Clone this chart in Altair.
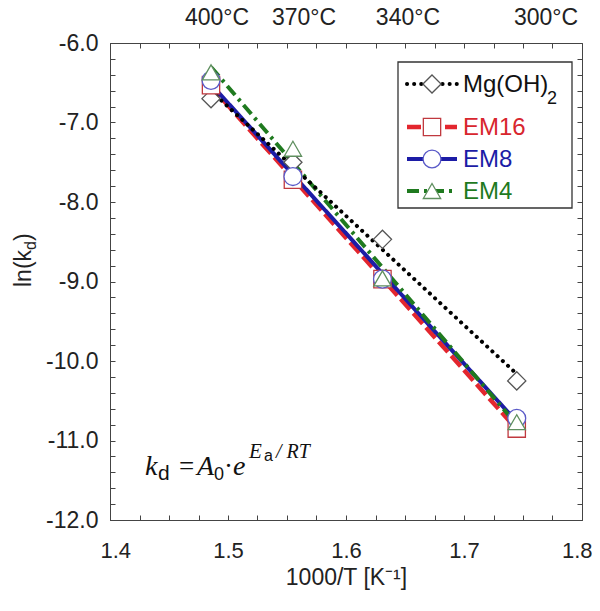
import altair as alt
import pandas as pd
import numpy as np

# ---------------- data ----------------
temps_c = [400, 370, 340, 300]
inv_T = [1.4856, 1.5550, 1.6309, 1.7447]          # 1000/T [1/K]
series_names = ["Mg(OH)2", "EM16", "EM8", "EM4"]
mg_vals = [-6.70, -7.50, -8.47, -10.25]
em16_vals = [-6.53, -7.72, -8.97, -10.85]
em8_vals = [-6.47, -7.68, -8.97, -10.72]
em4_vals = [-6.37, -7.33, -8.96, -10.77]

top_labels = ["400°C", "370°C", "340°C", "300°C"]
top_label_pos = [1.4907, 1.5644, 1.6525, 1.7695]

x_ticks = [round(1.4 + 0.025 * i, 3) for i in range(17)]
y_ticks = [round(-12.0 + 0.2 * i, 1) for i in range(31)]
x_major = [1.4, 1.5, 1.6, 1.7, 1.8]
y_major = [-12.0, -11.0, -10.0, -9.0, -8.0, -7.0, -6.0]

line_colors = ["#000000", "#e3262e", "#1c1ca6", "#1f7a1f"]
marker_strokes = ["#555555", "#c0393f", "#5a5ac8", "#5f8f5f"]
text_colors = ["#111111", "#d8262e", "#1c1ca6", "#1f7a1f"]
shapes = ["diamond", "square", "circle", "triangle-up"]
sizes = [330, 300, 320, 300]
dashes = [[0.1, 7], [14, 5], [1, 0], [12, 5, 3, 5]]
widths = [4, 4.5, 4, 4]

vals = [mg_vals, em16_vals, em8_vals, em4_vals]
rows = []
for name, v in zip(series_names, vals):
    for x, y in zip(inv_T, v):
        rows.append({"series": name, "x": x, "y": y})
df = pd.DataFrame(rows)

W, H = 472, 477
xscale = alt.Scale(domain=[1.4, 1.8], nice=False, zero=False)
yscale = alt.Scale(domain=[-12, -6], nice=False, zero=False)

FONT = "Liberation Sans"
SERIF = "Liberation Serif"
X0, Y0 = 110, 43   # plot origin on page (for annotations)
AX = "#444444"
LBL = "replace(format(datum.value, '.1f'), '\u2212', '-')"

x_axis = alt.Axis(
    values=x_major, labelExpr=LBL, ticks=False,
    labelPadding=20, labelFontSize=22, labelFont=FONT, labelColor="#222222",
    domainColor=AX, grid=False,
    title="1000/T [K\u207b\u00b9]", titleFont=FONT, titleFontSize=23, titleFontWeight="normal",
    titleColor="#222222", titlePadding=5, labelFlush=True, labelFlushOffset=10,
)
y_axis = alt.Axis(
    values=y_major, labelExpr=LBL, ticks=False,
    labelPadding=12, labelFontSize=23, labelFont=FONT, labelColor="#222222",
    domainColor=AX, grid=False, title=None, labelFlush=False,
)
# inward ticks: opposite-orient axes shifted across the plot
x_ticks_bottom_in = alt.Axis(orient="top", offset=-H, values=x_ticks, labels=False, domain=False,
                             tickSize=5, tickColor=AX, grid=False, title=None)
y_ticks_left_in = alt.Axis(orient="right", offset=-W, values=y_ticks, labels=False, domain=False,
                           tickSize=5, tickColor=AX, grid=False, title=None)
x_ticks_top_in = alt.Axis(orient="bottom", offset=-H, values=x_ticks, labels=False, domain=False,
                          tickSize=5, tickColor=AX, grid=False, title=None)
y_ticks_right_in = alt.Axis(orient="left", offset=-W, values=y_ticks, labels=False, domain=False,
                            tickSize=5, tickColor=AX, grid=False, title=None)

base = alt.Chart(df)
layers = []

# regression lines: draw order red, blue, green, black
for i in [1, 2, 3, 0]:
    first = (i == 1)
    layers.append(
        base.transform_filter(alt.datum.series == series_names[i])
        .transform_regression("x", "y")
        .mark_line(color=line_colors[i], strokeWidth=widths[i], strokeDash=dashes[i],
                   strokeCap="round" if i == 0 else "butt")
        .encode(x=alt.X("x:Q", scale=xscale, axis=x_axis if first else None),
                y=alt.Y("y:Q", scale=yscale, axis=y_axis if first else None))
    )

# tick-only axes (invisible points)
layers.append(base.mark_point(opacity=0).encode(
    x=alt.X("x:Q", scale=xscale, axis=x_ticks_bottom_in),
    y=alt.Y("y:Q", scale=yscale, axis=y_ticks_left_in)))
layers.append(base.mark_point(opacity=0).encode(
    x=alt.X("x:Q", scale=xscale, axis=x_ticks_top_in),
    y=alt.Y("y:Q", scale=yscale, axis=y_ticks_right_in)))

# markers
for i in range(4):
    layers.append(
        base.transform_filter(alt.datum.series == series_names[i])
        .mark_point(shape=shapes[i], size=sizes[i], filled=True, fill="white",
                    stroke=marker_strokes[i], strokeWidth=1.3, opacity=1)
        .encode(x=alt.X("x:Q", scale=xscale, axis=None),
                y=alt.Y("y:Q", scale=yscale, axis=None))
    )

# top temperature labels
tdf = pd.DataFrame({"label": top_labels, "pos": top_label_pos})
layers.append(
    alt.Chart(tdf).mark_text(font=FONT, fontSize=23, color="#222222", baseline="middle", align="center")
    .encode(x=alt.X("pos:Q", scale=xscale, axis=None), y=alt.value(-25), text="label:N")
)

# legend
one = pd.DataFrame({"k": [0]})
layers.append(alt.Chart(one).mark_rect(fill="white", stroke="#333333", strokeWidth=1.3).encode(
    x=alt.value(398 - X0), x2=alt.value(572 - X0), y=alt.value(62 - Y0), y2=alt.value(208 - Y0)))
leg_y = [84, 127, 159, 191]
leg_df = pd.DataFrame({"series": series_names, "label": ["Mg(OH)", "EM16", "EM8", "EM4"]})
for i in range(4):
    sub = alt.Chart(leg_df).transform_filter(alt.datum.series == series_names[i])
    layers.append(sub.mark_rule(color=line_colors[i], strokeWidth=widths[i], strokeDash=dashes[i],
                                strokeCap="round" if i == 0 else "butt").encode(
        x=alt.value(407 - X0), x2=alt.value(457 - X0), y=alt.value(leg_y[i] - Y0)))
    layers.append(sub.mark_point(shape=shapes[i], size=sizes[i], filled=True, fill="white",
                                 stroke=marker_strokes[i], strokeWidth=1.3, opacity=1).encode(
        x=alt.value(432 - X0), y=alt.value(leg_y[i] - Y0)))
    layers.append(sub.mark_text(font=FONT, fontSize=24, color=text_colors[i], align="left",
                                baseline="middle").encode(
        x=alt.value(463 - X0), y=alt.value(leg_y[i] - Y0 + 1), text="label:N"))
layers.append(alt.Chart(one).mark_text(text="2", font=FONT, fontSize=18, color=text_colors[0],
                                       align="left", baseline="alphabetic").encode(
    x=alt.value(547 - X0), y=alt.value(104 - Y0)))

# formula  k_d = A_0 · e^(E_a / RT)
formula = [
    ("k", SERIF, "italic", 28, 145, 475),
    ("d", FONT, "normal", 21, 158, 480),
    ("=", SERIF, "normal", 27, 179, 475),
    ("A", SERIF, "italic", 28, 197, 475),
    ("0", FONT, "normal", 18, 214, 480),
    ("\u00b7", SERIF, "normal", 27, 224, 475),
    ("e", SERIF, "italic", 28, 233, 475),
    ("E", SERIF, "italic", 21, 249, 458),
    ("a", FONT, "normal", 16, 264, 461),
    ("/ RT", SERIF, "italic", 20, 276, 458),
]
for t, f, st, fs, px, py in formula:
    layers.append(alt.Chart(one).mark_text(text=t, font=f, fontStyle=st, fontSize=fs, color="#111111",
                                           align="left", baseline="alphabetic").encode(
        x=alt.value(px - X0), y=alt.value(py - Y0)))

# y-axis title ln(k_d), rotated
ytitle = [("ln(k", 23, 31, 287), ("d", 16, 36, 250), (")", 23, 31, 241)]
for t, fs, px, py in ytitle:
    layers.append(alt.Chart(one).mark_text(text=t, font=FONT, fontSize=fs, color="#222222", angle=270,
                                           align="left", baseline="alphabetic").encode(
        x=alt.value(px - X0), y=alt.value(py - Y0)))

chart = alt.layer(*layers).properties(
    width=W, height=H,
    autosize=alt.AutoSizeParams(type="none"),
    padding={"left": 102, "top": 35, "right": 10, "bottom": 70},
).configure(background="white").configure_view(stroke=AX, strokeWidth=1)

chart.save("out.html", embed_options={"renderer": "svg", "actions": False})
